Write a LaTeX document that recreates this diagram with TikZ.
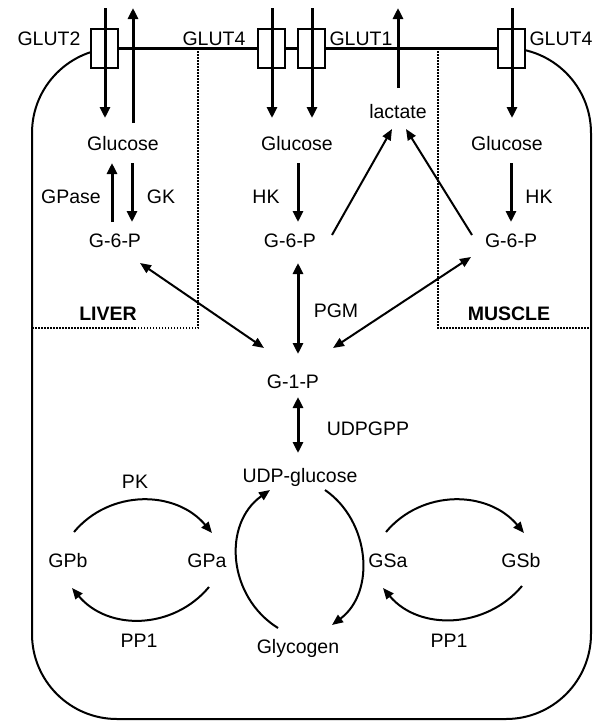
\documentclass[tikz,border=0pt]{standalone}
\usepackage{fontspec}
\setmainfont{Liberation Sans}
\usetikzlibrary{arrows.meta,calc}

\begin{document}
\begin{tikzpicture}[x=1pt,y=-1pt,
  lbl/.style={font=\fontsize{19.5}{22}\selectfont, inner sep=0pt, anchor=base},
  region/.style={lbl, font=\fontsize{19.5}{22}\selectfont\bfseries},
  tbox/.style={draw, fill=white, line width=2pt, minimum width=27pt, minimum height=39pt, inner sep=0pt},
  fat/.style={line width=3pt, -{Triangle[length=11pt,width=10pt]}},
  fatboth/.style={line width=3pt, {Triangle[length=11pt,width=10pt]}-{Triangle[length=11pt,width=10pt]}},
  slim/.style={line width=2pt, -{Triangle[length=11pt,width=9pt]}},
  slimboth/.style={line width=2pt, {Triangle[length=11pt,width=9pt]}-{Triangle[length=11pt,width=9pt]}},
  zone/.style={line width=1.5pt, dash pattern=on 1.5pt off 1.5pt},
  cell/.style={line width=2pt}]
\useasboundingbox (0,0) rectangle (599,721);

% cell outline
\draw[cell, rounded corners=85pt] (32,48) rectangle (591,719);

% tissue regions
\draw[zone] (198,48) -- (198,328) -- (32,328);
\draw[zone] (438,48) -- (438,328) -- (591,328);

% transporters in the membrane
\node[tbox] (b2)  at (104.5,48.5) {};
\node[tbox] (b4a) at (271,48.5) {};
\node[tbox] (b1)  at (311,48.5) {};
\node[tbox] (b4b) at (511,48.5) {};
\draw[line width=2.5pt] (b2.east) -- (b4a.west);
\draw[line width=2.5pt] (b4a.east) -- (b1.west);
\draw[line width=2.5pt] (b1.east) -- (b4b.west);

% labels
\node[lbl] (l2)  at (49,45)  {GLUT2};
\node[lbl] (l4a) at (214,45) {GLUT4};
\node[lbl] (l1)  at (361,45) {GLUT1};
\node[lbl] (l4b) at (561,45) {GLUT4};

\node[lbl] (lglc) at (123,150) {Glucose};
\node[lbl] (mglc) at (297,150) {Glucose};
\node[lbl] (sglc) at (507,150) {Glucose};
\node[lbl] (lact) at (398,118) {lactate};

\node[lbl] (gpase) at (71,203)  {GPase};
\node[lbl] (gk)    at (161,203) {GK};
\node[lbl] (hk1)   at (266,203) {HK};
\node[lbl] (hk2)   at (539,203) {HK};

\node[lbl] (lg6p) at (115,247) {G-6-P};
\node[lbl] (mg6p) at (290,247) {G-6-P};
\node[lbl] (sg6p) at (511,247) {G-6-P};

\node[region] (liver)  at (108,320) {LIVER};
\node[region] (muscle) at (509,320) {MUSCLE};

\node[lbl] (pgm)    at (336,317) {PGM};
\node[lbl] (g1p)    at (293,388) {G-1-P};
\node[lbl] (udpgpp) at (368,435) {UDPGPP};
\node[lbl] (udpg)   at (300,482) {UDP-glucose};

\node[lbl] (pk)  at (135,488) {PK};
\node[lbl] (gpb) at (68,567)  {GPb};
\node[lbl] (gpa) at (207,567) {GPa};
\node[lbl] (gsa) at (388,567) {GSa};
\node[lbl] (gsb) at (521,567) {GSb};
\node[lbl] (pp1a) at (139,647) {PP1};
\node[lbl] (pp1b) at (449,647) {PP1};
\node[lbl] (glyc) at (298,653) {Glycogen};

% outside ends of the transport arrows
\coordinate (out2)  at (105,8);
\coordinate (outl)  at (133,8);
\coordinate (out4a) at (272,8);
\coordinate (out1)  at (312,8);
\coordinate (outla) at (398,8);
\coordinate (out4b) at (512,8);

% transport across the membrane
\draw[fat] (out2) -- ($(lglc.base)+(-18,-32)$);
\draw[fat] ($(lglc.base)+(10,-27)$) -- (outl);
\draw[fat] (out4a) -- ($(mglc.base)+(-25,-32)$);
\draw[fat] (out1) -- ($(mglc.base)+(15,-32)$);
\draw[fat] ($(lact.base)+(0,-30)$) -- (outla);
\draw[fat] (out4b) -- ($(sglc.base)+(5,-32)$);

% phosphorylation steps
\draw[fat] ($(lglc.base)+(9,13)$) -- ($(lg6p.base)+(17,-25)$);
\draw[fat] ($(lg6p.base)+(-3,-25)$) -- ($(lglc.base)+(-11,13)$);
\draw[fat] ($(mglc.base)+(1,13)$) -- ($(mg6p.base)+(8,-25)$);
\draw[fat] ($(sglc.base)+(4,13)$) -- ($(sg6p.base)+(0,-25)$);

% glycolysis to lactate
\draw[slim] ($(mg6p.base)+(42,-12)$) -- ($(lact.base)+(-6,11)$);
\draw[slim] ($(sg6p.base)+(-39,-12)$) -- ($(lact.base)+(8,11)$);

% G-6-P / G-1-P exchange
\draw[slimboth] ($(lg6p.base)+(25,16)$) -- ($(g1p.base)+(-29,-40)$);
\draw[slimboth] ($(sg6p.base)+(-40,10)$) -- ($(g1p.base)+(40,-40)$);
\draw[fatboth] ($(mg6p.base)+(8,16)$) -- ($(g1p.base)+(5,-34)$);
\draw[fatboth] ($(g1p.base)+(5,9)$) -- ($(udpg.base)+(-2,-29)$);

% phosphorylase cycle
\draw[slim] ($(gpb.base)+(6,-35)$) .. controls +(36,-43) and +(-36,-43) .. ($(gpa.base)+(5,-34)$);
\draw[slim] ($(gpa.base)+(2,20)$) .. controls +(-36,43) and +(36,43) .. ($(gpb.base)+(4,21)$);

% synthase cycle
\draw[slim] ($(gsa.base)+(-2,-35)$) .. controls +(36,-43) and +(-36,-43) .. ($(gsb.base)+(3,-34)$);
\draw[slim] ($(gsb.base)+(1,19)$) .. controls +(-36,43) and +(36,43) .. ($(gsa.base)+(-5,21)$);

% glycogen turnover
\draw[slim] ($(glyc.base)+(-20,-25)$) .. controls +(-50,-31) and +(-48,34) .. ($(udpg.base)+(-30,8)$);
\draw[slim] ($(udpg.base)+(25,8)$) .. controls +(45,31) and +(44,-33) .. ($(glyc.base)+(34,-28)$);
\end{tikzpicture}
\end{document}
